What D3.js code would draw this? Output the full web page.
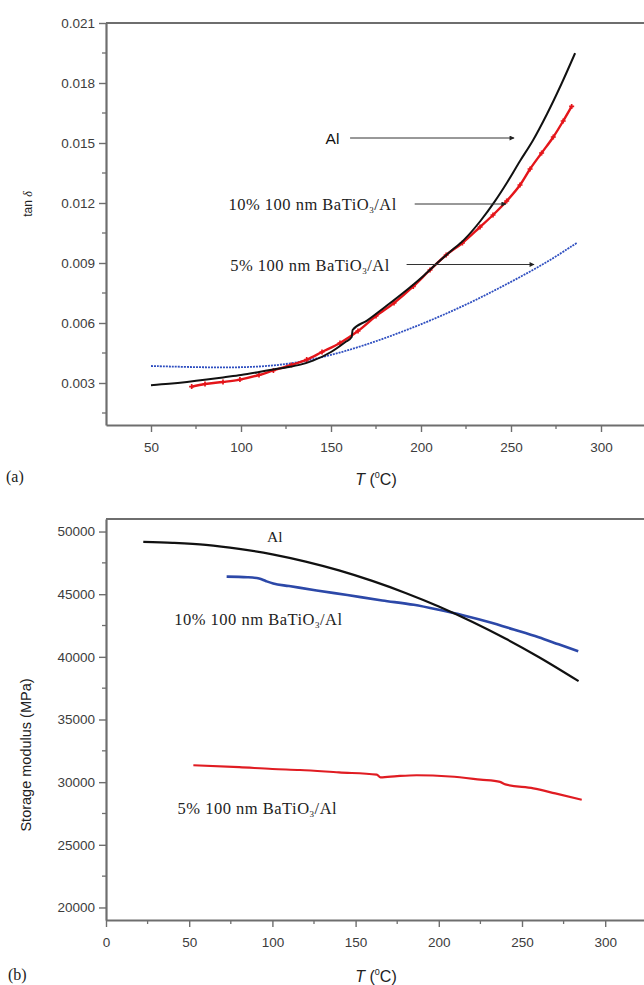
<!DOCTYPE html>
<html>
<head>
<meta charset="utf-8">
<script src="https://cdn.jsdelivr.net/npm/d3@7"></script>
<style>
  body { margin: 0; background: #fff; }
  svg { display: block; }
</style>
</head>
<body>
<script>
// ---- panel (a): tan delta vs temperature ----
var tempAlA = [50, 60, 70, 81, 90, 100, 110, 118, 125, 133, 140, 150, 158, 161.5, 162, 170, 180, 190, 201, 209, 216, 224, 233, 241, 248, 255, 262, 270, 278, 285.6];
var tanAlA = [0.00289, 0.00296, 0.00305, 0.00317, 0.00328, 0.00340, 0.00355, 0.00368, 0.00378, 0.00392, 0.00412, 0.00455, 0.00505, 0.00530, 0.00565, 0.00612, 0.00680, 0.00750, 0.00833, 0.00900, 0.00955, 0.01017, 0.01110, 0.01208, 0.01305, 0.01410, 0.01510, 0.01645, 0.01795, 0.01949];

var temp10A = [72.6, 80, 90, 99.4, 110, 118, 128, 136.5, 145, 155, 165, 175, 185, 195.7, 205, 214, 223, 232.8, 240, 247.6, 255, 260.6, 267, 273.5, 279, 283.7];
var tan10A = [0.00282, 0.00295, 0.00305, 0.00317, 0.00340, 0.00363, 0.00390, 0.00417, 0.00455, 0.00500, 0.00560, 0.00635, 0.00700, 0.00783, 0.00865, 0.00940, 0.01000, 0.01080, 0.01140, 0.01210, 0.01290, 0.01370, 0.01450, 0.01530, 0.01610, 0.01683];

var temp5A = [50, 70, 90, 110, 130, 150, 170, 190, 210, 230, 250, 270, 286.5];
var tan5A = [0.00385, 0.00380, 0.00377, 0.00380, 0.00398, 0.00438, 0.00492, 0.00557, 0.00630, 0.00712, 0.00805, 0.00903, 0.01000];

var xTicksA = [50, 100, 150, 200, 250, 300];
var xMinorA = [75, 125, 175, 225, 275, 325];
var yTicksA = [0.003, 0.006, 0.009, 0.012, 0.015, 0.018, 0.021];
var yMinorA = [0.0015, 0.0045, 0.0075, 0.0105, 0.0135, 0.0165, 0.0195];

// ---- panel (b): storage modulus vs temperature ----
var tempAlB = [22.4, 40, 60, 80, 100, 120, 140, 160, 180, 200, 220, 240, 260, 284];
var modAlB = [49180, 49100, 48940, 48620, 48180, 47600, 46900, 46060, 45100, 44020, 42800, 41460, 39990, 38060];

var temp10B = [72.5, 85, 92, 96, 100.5, 110, 126.6, 145, 166, 185, 200, 215, 230, 245, 260, 272, 283.8];
var mod10B = [46400, 46350, 46250, 46050, 45850, 45650, 45300, 44930, 44500, 44150, 43750, 43300, 42780, 42180, 41560, 41000, 40450];

var temp5B = [52.5, 80, 100, 116.6, 140, 162.7, 165, 175, 186.7, 206.7, 225, 236.8, 240, 256.8, 270, 285.9];
var mod5B = [31350, 31200, 31050, 30970, 30780, 30600, 30380, 30480, 30550, 30450, 30200, 30020, 29820, 29500, 29100, 28600];

var xTicksB = [0, 50, 100, 150, 200, 250, 300];
var xMinorB = [25, 75, 125, 175, 225, 275, 325];
var yTicksB = [20000, 25000, 30000, 35000, 40000, 45000, 50000];
var yMinorB = [22500, 27500, 32500, 37500, 42500, 47500];

var W = 644, H = 985;
var axisColor = "#6e6e6e";
var labelColor = "#3c3c3c";
var sans = "'Liberation Sans', Arial, sans-serif";
var serif = "'Liberation Serif', 'Times New Roman', serif";

var svg = d3.select("body").append("svg")
    .attr("width", W)
    .attr("height", H);

var defs = svg.append("defs");
defs.append("marker")
    .attr("id", "arrow")
    .attr("viewBox", "0 0 10 10")
    .attr("refX", 9)
    .attr("refY", 5)
    .attr("markerWidth", 7)
    .attr("markerHeight", 5)
    .attr("orient", "auto")
    .append("path")
    .attr("d", "M0,0 L10,5 L0,10 z")
    .attr("fill", "#222");

function drawAxes(x, y, xTicks, xMinor, yTicks, yMinor, yFmt) {
    var g = svg.append("g");
    var x0 = x.range()[0], x1 = x.range()[1];
    var y0 = y.range()[0], y1 = y.range()[1];

    // minor ticks
    g.selectAll(".xmin").data(xMinor).enter().append("line")
        .attr("x1", function(d) { return x(d); })
        .attr("x2", function(d) { return x(d); })
        .attr("y1", y0).attr("y2", y0 + 4)
        .attr("stroke", axisColor).attr("stroke-width", 1.3);
    g.selectAll(".ymin").data(yMinor).enter().append("line")
        .attr("y1", function(d) { return y(d); })
        .attr("y2", function(d) { return y(d); })
        .attr("x1", x0).attr("x2", x0 - 4)
        .attr("stroke", axisColor).attr("stroke-width", 1.3);

    var xAxis = d3.axisBottom(x).tickValues(xTicks).tickSize(7).tickSizeOuter(0).tickPadding(10);
    var yAxis = d3.axisLeft(y).tickValues(yTicks).tickSize(7).tickSizeOuter(0).tickPadding(4).tickFormat(yFmt);

    var gx = g.append("g").attr("transform", "translate(0," + y0 + ")").call(xAxis);
    var gy = g.append("g").attr("transform", "translate(" + x0 + ",0)").call(yAxis);

    [gx, gy].forEach(function(a) {
        a.select(".domain").attr("stroke", axisColor).attr("stroke-width", 2.2);
        a.selectAll(".tick line").attr("stroke", axisColor).attr("stroke-width", 1.4);
        a.selectAll(".tick text")
            .attr("fill", labelColor)
            .style("font-family", sans)
            .style("font-size", "13.5px");
    });

    // top frame line
    g.append("line")
        .attr("x1", x0).attr("x2", x1)
        .attr("y1", y1).attr("y2", y1)
        .attr("stroke", axisColor).attr("stroke-width", 2.2);
}

function tempTitle(cx, baseline) {
    var t = svg.append("text")
        .attr("x", cx).attr("y", baseline)
        .attr("text-anchor", "middle")
        .attr("fill", "#222")
        .style("font-family", sans)
        .style("font-size", "16px");
    t.append("tspan").style("font-style", "italic").text("T");
    t.append("tspan").text(" (");
    t.append("tspan").attr("dy", -7).style("font-size", "9px").text("0");
    t.append("tspan").attr("dy", 7).text("C)");
}

function bto(g, x, y, pct) {
    var t = g.append("text")
        .attr("x", x).attr("y", y)
        .attr("fill", "#222")
        .style("font-family", serif)
        .style("font-size", "16.5px")
        .style("letter-spacing", "0.5px");
    t.append("tspan").text(pct + " 100 nm BaTiO");
    t.append("tspan").attr("dy", 3).style("font-size", "9px").text("3");
    t.append("tspan").attr("dy", -3).text("/Al");
    return t;
}

// ================= panel (a) =================
var xA = d3.scaleLinear().domain([25, 325]).range([106, 646]);
var yA = d3.scaleLinear().domain([0.0009, 0.021]).range([425, 23]);

drawAxes(xA, yA, xTicksA, xMinorA, yTicksA, yMinorA, d3.format(".3f"));

var lineA = d3.line()
    .x(function(d) { return xA(d[0]); })
    .y(function(d) { return yA(d[1]); })
    .curve(d3.curveMonotoneX);

var s5A = d3.zip(temp5A, tan5A);
var s10A = d3.zip(temp10A, tan10A);
var sAlA = d3.zip(tempAlA, tanAlA);

svg.append("path").datum(s5A)
    .attr("d", lineA.curve(d3.curveBasis))
    .attr("fill", "none")
    .attr("stroke", "#2f4fc0")
    .attr("stroke-width", 1.8)
    .attr("stroke-dasharray", "2,1");

lineA.curve(d3.curveMonotoneX);

svg.append("path").datum(s10A)
    .attr("d", lineA)
    .attr("fill", "none")
    .attr("stroke", "#e4151a")
    .attr("stroke-width", 2.4);
svg.selectAll(".redpt").data(s10A).enter().append("path")
    .attr("d", d3.symbol(d3.symbolCross, 14))
    .attr("transform", function(d) { return "translate(" + xA(d[0]) + "," + yA(d[1]) + ")"; })
    .attr("fill", "#e4151a");

svg.append("path").datum(sAlA)
    .attr("d", lineA)
    .attr("fill", "none")
    .attr("stroke", "#111")
    .attr("stroke-width", 2);

// annotations (a)
var annA = svg.append("g");
annA.append("text")
    .attr("x", xA(147)).attr("y", yA(0.01495))
    .attr("fill", "#111")
    .style("font-family", sans)
    .style("font-size", "15.5px")
    .text("Al");
annA.append("line")
    .attr("x1", xA(160.6)).attr("x2", xA(251.7))
    .attr("y1", yA(0.01525)).attr("y2", yA(0.01525))
    .attr("stroke", "#333").attr("stroke-width", 1)
    .attr("marker-end", "url(#arrow)");

bto(annA, xA(93), yA(0.01165), "10%");
annA.append("line")
    .attr("x1", xA(196.5)).attr("x2", xA(247.2))
    .attr("y1", yA(0.01195)).attr("y2", yA(0.01195))
    .attr("stroke", "#333").attr("stroke-width", 1)
    .attr("marker-end", "url(#arrow)");

bto(annA, xA(94), yA(0.0086), "5%");
annA.append("line")
    .attr("x1", xA(192)).attr("x2", xA(262.8))
    .attr("y1", yA(0.008925)).attr("y2", yA(0.008925))
    .attr("stroke", "#333").attr("stroke-width", 1)
    .attr("marker-end", "url(#arrow)");

// axis titles (a)
var tanT = svg.append("text")
    .attr("transform", "translate(32,204) rotate(-90)")
    .attr("text-anchor", "middle")
    .attr("fill", "#222")
    .style("font-family", sans)
    .style("font-size", "12px");
tanT.append("tspan").text("tan ");
tanT.append("tspan").style("font-style", "italic").style("font-family", serif).text("δ");

tempTitle(376, 485);
svg.append("text")
    .attr("x", 6).attr("y", 482)
    .attr("fill", "#222")
    .style("font-family", serif)
    .style("font-size", "16px")
    .text("(a)");

// ================= panel (b) =================
var xB = d3.scaleLinear().domain([0, 325]).range([106, 646.8]);
var yB = d3.scaleLinear().domain([19000, 51000]).range([920, 519]);

drawAxes(xB, yB, xTicksB, xMinorB, yTicksB, yMinorB, d3.format("d"));

var lineB = d3.line()
    .x(function(d) { return xB(d[0]); })
    .y(function(d) { return yB(d[1]); })
    .curve(d3.curveMonotoneX);

svg.append("path").datum(d3.zip(temp5B, mod5B))
    .attr("d", lineB)
    .attr("fill", "none")
    .attr("stroke", "#e01c22")
    .attr("stroke-width", 2.2);

svg.append("path").datum(d3.zip(temp10B, mod10B))
    .attr("d", lineB)
    .attr("fill", "none")
    .attr("stroke", "#2c48a8")
    .attr("stroke-width", 2.6);

svg.append("path").datum(d3.zip(tempAlB, modAlB))
    .attr("d", lineB)
    .attr("fill", "none")
    .attr("stroke", "#111")
    .attr("stroke-width", 2.2);

// annotations (b)
var annB = svg.append("g");
annB.append("text")
    .attr("x", xB(96.8)).attr("y", yB(49164))
    .attr("fill", "#222")
    .style("font-family", serif)
    .style("font-size", "15.5px")
    .text("Al");
bto(annB, xB(41), yB(42540), "10%");
bto(annB, xB(43), yB(27460), "5%");

svg.append("text")
    .attr("transform", "translate(31,755) rotate(-90)")
    .attr("text-anchor", "middle")
    .attr("fill", "#222")
    .style("font-family", sans)
    .style("font-size", "14.5px")
    .text("Storage modulus (MPa)");

tempTitle(376, 982);
svg.append("text")
    .attr("x", 8).attr("y", 980)
    .attr("fill", "#222")
    .style("font-family", serif)
    .style("font-size", "16px")
    .text("(b)");
</script>
</body>
</html>
